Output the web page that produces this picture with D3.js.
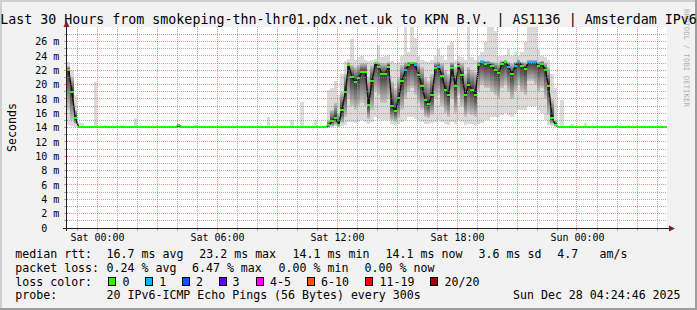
<!DOCTYPE html>
<html><head><meta charset="utf-8">
<script src="https://cdn.jsdelivr.net/npm/d3@7"></script>
<style>
html,body{margin:0;padding:0;background:#f2f2f2;}
svg{display:block;}
text{font-family:"DejaVu Sans Mono",monospace;}
</style></head><body>
<svg id="c" width="697" height="310"></svg>
<script>
// ---------------- DATA ----------------
const title = "Last 30 Hours from smokeping-thn-lhr01.pdx.net.uk to KPN B.V. | AS1136 | Amsterdam IPv6";
const startTime = "2025-12-26T22:30:00Z";
const endTime = "2025-12-28T04:30:00Z";
const stepMinutes = 10;

// median RTT (ms) per 10-minute step
const medianRtt = [
22.0,19.0,15.3,14.1,14.1,14.1,14.1,14.1,14.1,14.1,
14.1,14.1,14.1,14.1,14.1,14.1,14.1,14.1,14.1,14.1,
14.1,14.1,14.1,14.1,14.1,14.1,14.1,14.1,14.1,14.1,
14.1,14.1,14.1,14.3,14.1,14.1,14.1,14.1,14.1,14.1,
14.1,14.1,14.1,14.1,14.1,14.1,14.1,14.1,14.1,14.1,
14.1,14.1,14.1,14.1,14.1,14.1,14.1,14.1,14.1,14.1,
14.1,14.1,14.1,14.1,14.1,14.1,14.1,14.1,14.1,14.1,
14.1,14.1,14.1,14.1,14.1,14.1,14.1,14.1,14.3,14.9,
15.4,14.4,16.5,19.0,22.8,21.0,20.4,20.9,21.8,21.8,
17.2,20.5,23.0,22.5,21.5,21.5,22.5,17.0,16.3,18.1,
20.5,22.0,22.8,23.0,22.7,21.4,19.8,17.8,17.3,18.5,
22.3,22.5,21.2,19.3,18.5,22.3,19.8,22.6,21.3,18.5,
20.0,19.3,18.6,22.8,23.2,22.9,23.0,22.6,22.0,21.6,
22.9,23.2,22.5,21.5,22.6,23.2,22.6,22.2,23.2,23.2,
23.2,22.6,22.9,22.0,19.8,15.4,14.4,14.1,14.1,14.1,
14.1,14.1,14.1,14.1,14.1,14.1,14.1,14.1,14.1,14.1,
14.1,14.1,14.1,14.1,14.1,14.1,14.1,14.1,14.1,14.1,
14.1,14.1,14.1,14.1,14.1,14.1,14.1,14.1,14.1,14.1
];
// lowest ping (ms)
const pingMin = [
14.3,14.2,14.1,14.0,14.0,14.0,14.0,14.0,14.0,14.0,
14.0,14.0,14.0,14.0,14.0,14.0,14.0,14.0,14.0,14.0,
14.0,14.0,14.0,14.0,14.0,14.0,14.0,14.0,14.0,14.0,
14.0,14.0,14.0,14.0,14.0,14.0,14.0,14.0,14.0,14.0,
14.0,14.0,14.0,14.0,14.0,14.0,14.0,14.0,14.0,14.0,
14.0,14.0,14.0,14.0,14.0,14.0,14.0,14.0,14.0,14.0,
14.0,14.0,14.0,14.0,14.0,14.0,14.0,14.0,14.0,14.0,
14.0,14.0,14.0,14.0,14.0,14.0,14.0,14.0,14.0,14.1,
14.2,14.1,14.2,14.4,14.8,14.8,14.6,14.8,15.0,14.8,
14.5,14.8,15.5,15.2,15.0,15.0,15.0,14.5,14.3,14.5,
14.8,15.0,15.5,15.5,15.2,15.0,14.8,14.5,14.5,14.6,
14.8,15.0,14.8,14.5,14.4,14.8,14.5,15.0,14.8,14.4,
14.5,14.5,14.4,14.5,14.6,15.0,15.0,15.5,15.5,15.5,
15.8,16.0,15.8,15.5,16.0,16.5,16.5,16.5,17.0,17.0,
17.0,16.5,16.0,15.0,14.4,14.2,14.1,14.0,14.0,14.0,
14.0,14.0,14.0,14.0,14.0,14.0,14.0,14.0,14.0,14.0,
14.0,14.0,14.0,14.0,14.0,14.0,14.0,14.0,14.0,14.0,
14.0,14.0,14.0,14.0,14.0,14.0,14.0,14.0,14.0,14.0
];
// lower quartile-ish ping (ms)
const pingLowQ = [
16.5,15.0,14.5,14.05,14.05,14.05,14.05,14.05,14.05,14.05,
14.05,14.05,14.05,14.05,14.05,14.05,14.05,14.05,14.05,14.05,
14.05,14.05,14.05,14.05,14.05,14.05,14.05,14.05,14.05,14.05,
14.05,14.05,14.05,14.2,14.05,14.05,14.05,14.05,14.05,14.05,
14.05,14.05,14.05,14.05,14.05,14.05,14.05,14.05,14.05,14.05,
14.05,14.05,14.05,14.05,14.05,14.05,14.05,14.05,14.05,14.05,
14.05,14.05,14.05,14.05,14.05,14.05,14.05,14.05,14.05,14.05,
14.05,14.05,14.05,14.05,14.05,14.05,14.05,14.05,14.05,14.2,
14.4,14.2,14.6,15.5,18.0,17.0,16.5,17.0,17.5,17.0,
15.2,16.5,19.0,18.5,17.5,17.5,18.0,15.0,14.8,15.3,
16.5,18.0,19.0,19.5,18.5,17.5,16.5,15.5,15.3,15.8,
18.0,18.5,17.0,16.0,15.5,18.0,16.0,18.5,17.0,15.5,
16.0,15.8,15.5,19.0,20.0,19.5,19.5,19.0,18.5,18.0,
19.5,20.0,19.0,18.0,19.0,20.0,19.0,18.5,20.5,20.5,
20.0,19.0,19.5,18.0,15.8,14.5,14.2,14.05,14.05,14.05,
14.05,14.05,14.05,14.05,14.05,14.05,14.05,14.05,14.05,14.05,
14.05,14.05,14.05,14.05,14.05,14.05,14.05,14.05,14.05,14.05,
14.05,14.05,14.05,14.05,14.05,14.05,14.05,14.05,14.05,14.05
];
// upper quartile-ish ping (ms)
const pingHighQ = [
22.6,21.0,16.5,14.15,14.15,14.15,14.15,14.15,14.15,14.15,
14.15,14.15,14.15,14.15,14.15,14.15,14.15,14.15,14.15,14.15,
14.15,14.15,14.15,14.15,14.15,14.15,14.15,14.15,14.15,14.15,
14.15,14.15,14.15,14.4,14.15,14.15,14.15,14.15,14.15,14.15,
14.15,14.15,14.15,14.15,14.15,14.15,14.15,14.15,14.15,14.15,
14.15,14.15,14.15,14.15,14.15,14.15,14.15,14.15,14.15,14.15,
14.15,14.15,14.15,14.15,14.15,14.15,14.15,14.15,14.15,14.15,
14.15,14.15,14.15,14.15,14.15,14.15,14.15,14.15,15.0,16.5,
17.5,16.0,19.0,21.5,23.1,22.8,22.5,22.8,23.0,23.0,
21.0,22.8,23.2,23.1,23.0,23.0,23.1,20.5,19.5,21.0,
22.8,23.1,23.2,23.2,23.2,23.0,22.5,21.0,20.5,21.5,
23.1,23.2,23.0,22.0,21.5,23.1,22.5,23.2,23.0,21.5,
22.5,22.0,21.8,23.2,23.4,23.3,23.3,23.2,23.1,23.0,
23.3,23.4,23.2,23.0,23.2,23.4,23.2,23.1,23.4,23.4,
23.4,23.2,23.3,23.0,22.5,18.0,15.0,14.15,14.15,14.15,
14.15,14.15,14.15,14.15,14.15,14.15,14.15,14.15,14.15,14.15,
14.15,14.15,14.15,14.15,14.15,14.15,14.15,14.15,14.15,14.15,
14.15,14.15,14.15,14.15,14.15,14.15,14.15,14.15,14.15,14.15
];
// highest ping (ms)
const pingMax = [
23.1,22.0,18.5,14.6,14.6,14.2,14.2,14.2,20.4,14.2,
14.2,14.4,14.2,14.2,14.2,14.2,14.3,14.2,14.2,14.2,
15.3,14.2,14.2,14.2,14.2,14.2,14.2,14.2,14.2,14.2,
14.2,14.2,14.2,14.5,14.2,14.2,14.2,14.2,14.4,14.2,
14.2,14.2,14.2,14.2,14.2,14.2,14.2,14.2,14.2,14.2,
14.2,14.2,14.2,14.2,14.2,14.2,14.2,14.2,14.2,14.2,
15.5,14.2,14.2,14.2,14.2,14.2,14.2,15.0,14.2,14.2,
17.6,14.2,14.2,14.2,15.1,14.2,14.2,14.2,19.3,19.5,
20.5,18.5,21.5,23.3,23.6,26.3,23.4,23.8,24.0,23.5,
23.3,23.4,23.6,25.5,23.8,24.0,24.2,23.3,23.0,23.2,
24.0,28.0,24.5,28.0,26.5,24.0,23.5,23.3,23.2,23.5,
24.0,25.0,24.0,23.5,25.5,26.0,23.5,24.0,23.8,23.4,
28.0,23.8,23.5,24.0,24.5,26.0,28.0,28.0,27.5,24.0,
24.0,24.2,25.0,24.0,24.5,24.0,24.5,26.0,28.0,28.0,
28.0,25.0,24.0,23.8,23.5,21.5,19.5,14.2,17.9,14.2,
14.2,14.5,14.2,14.2,14.2,14.6,14.2,14.2,14.2,14.2,
14.2,14.2,14.2,14.2,14.4,14.2,14.2,14.2,14.4,14.2,
14.2,14.2,14.2,14.2,14.2,14.2,14.2,14.2,14.2,14.2
];
// lost pings (of 20) per step
const lostPings = [
0,0,0,0,0,0,0,0,0,0, 0,0,0,0,0,0,0,0,0,0,
0,0,0,0,0,0,0,0,0,0, 0,0,0,0,0,0,0,0,0,0,
0,0,0,0,0,0,0,0,0,0, 0,0,0,0,0,0,0,0,0,0,
0,0,0,0,0,0,0,0,0,0, 0,0,0,0,0,0,0,0,0,0,
0,0,0,0,0,0,0,0,0,0, 0,0,0,0,0,0,0,0,0,0,
0,1,0,0,1,0,0,0,0,0, 0,1,0,0,0,0,0,0,0,0,
0,0,0,0,1,0,1,0,0,0, 0,0,1,0,1,1,0,0,1,1,
1,0,0,0,0,0,0,0,0,0, 0,0,0,0,0,0,0,0,0,0,
0,0,0,0,0,0,0,0,0,0, 0,0,0,0,0,0,0,0,0,0
];

const yTickValues = [0,2,4,6,8,10,12,14,16,18,20,22,24,26];
const xLabelTimes = ["2025-12-27T00:00:00Z","2025-12-27T06:00:00Z","2025-12-27T12:00:00Z","2025-12-27T18:00:00Z","2025-12-28T00:00:00Z"];
const xLabels = ["Sat 00:00","Sat 06:00","Sat 12:00","Sat 18:00","Sun 00:00"];
const yAxisTitle = "Seconds";

const lossBins = ["0","1","2","3","4-5","6-10","11-19","20/20"];
const lossUpper = [0,1,2,3,5,10,19,20];
const lossColors = ["#26ff00","#00b8ff","#0059ff","#5e00ff","#ff00ff","#ff5500","#ff0000","#a00000"];

const rttLabel = "median rtt:";
const rttStats = ["16.7 ms avg","23.2 ms max","14.1 ms min","14.1 ms now","3.6 ms sd","4.7","am/s"];
const lossLabel = "packet loss:";
const lossStats = ["0.24 % avg","6.47 % max","0.00 % min","0.00 % now"];
const colorLabel = "loss color:";
const probeLabel = "probe:";
const probeText = "20 IPv6-ICMP Echo Pings (56 Bytes) every 300s";
const stampText = "Sun Dec 28 04:24:46 2025";
const watermark = "RRDTOOL / TOBI OETIKER";

// ---------------- DRAW ----------------
const svg = d3.select("#c");
const W = 697, H = 310;
const PL = 67, PR = 667, PT = 27.3, PB = 228;

svg.append("rect").attr("width",W).attr("height",H).attr("fill","#f2f2f2");
// 3D border
svg.append("rect").attr("x",0).attr("y",0).attr("width",W).attr("height",2).attr("fill","#cfcfcf");
svg.append("rect").attr("x",0).attr("y",0).attr("width",2).attr("height",H).attr("fill","#cfcfcf");
svg.append("rect").attr("x",0).attr("y",H-2).attr("width",W).attr("height",2).attr("fill","#9e9e9e");
svg.append("rect").attr("x",W-2).attr("y",0).attr("width",2).attr("height",H).attr("fill","#9e9e9e");

// watermark
svg.append("text").attr("transform","translate(683.5,9) rotate(90)")
  .attr("font-size",7.4).attr("fill","#b0b0b0").text(watermark);

// title
svg.append("text").attr("x",W/2).attr("y",23.7).attr("text-anchor","middle")
  .attr("font-size",13.3).attr("fill","#000").text(title);

const x = d3.scaleUtc().domain([new Date(startTime), new Date(endTime)]).range([PL, PR]);
const y = d3.scaleLinear().domain([0, 28]).range([PB, PT]);

svg.append("rect").attr("x",PL).attr("y",27).attr("width",PR-PL).attr("height",PB-27).attr("fill","#fff");

const defs = svg.append("defs");
defs.append("clipPath").attr("id","clip").append("rect")
  .attr("x",PL).attr("y",27).attr("width",PR-PL).attr("height",PB-27);

const stepMs = stepMinutes*60000;
const t0 = +new Date(startTime);
const steps = medianRtt.map((m,i)=>({
  i, a:new Date(t0+i*stepMs), b:new Date(t0+(i+1)*stepMs), tc:new Date(t0+(i+0.5)*stepMs),
  med:m, lo:pingMin[i], q1:pingLowQ[i], q3:pingHighQ[i], hi:pingMax[i], loss:lostPings[i]
}));
const xa = d=>Math.round(x(d.a)), xw = d=>Math.round(x(d.b))-Math.round(x(d.a));

const plot = svg.append("g").attr("clip-path","url(#clip)");
// outer smoke
plot.append("g").selectAll("rect").data(steps).join("rect")
  .attr("x",xa).attr("width",xw)
  .attr("y",d=>y(d.hi)).attr("height",d=>Math.max(0,y(d.lo)-y(d.hi)))
  .attr("fill","#dadada").attr("shape-rendering","crispEdges");
// inner smoke with shading toward the median
steps.forEach(d=>{
  const top=y(d.q3), bot=y(d.q1);
  const f = bot>top ? Math.min(1,Math.max(0,(y(d.med)-top)/(bot-top))) : 0.5;
  const g = defs.append("linearGradient").attr("id","sg"+d.i)
    .attr("x1",0).attr("y1",0).attr("x2",0).attr("y2",1);
  g.append("stop").attr("offset",0).attr("stop-color","#c6c6c6");
  g.append("stop").attr("offset",f).attr("stop-color","#353535");
  g.append("stop").attr("offset",1).attr("stop-color","#c6c6c6");
});
plot.append("g").selectAll("rect").data(steps).join("rect")
  .attr("x",xa).attr("width",xw)
  .attr("y",d=>y(d.q3)).attr("height",d=>Math.max(0.5,y(d.q1)-y(d.q3)))
  .attr("fill",d=>"url(#sg"+d.i+")").attr("shape-rendering","crispEdges");
// median connecting line
plot.append("path").datum(steps)
  .attr("d", d3.line().x(d=>x(d.tc)).y(d=>y(d.med)))
  .attr("fill","none").attr("stroke","#141414").attr("stroke-width",1.4);
// median markers coloured by loss
const lossColor = l => lossColors[lossUpper.findIndex(u=>l<=u)];
plot.append("g").selectAll("rect").data(steps).join("rect")
  .attr("x",xa).attr("width",xw)
  .attr("y",d=>Math.round(y(d.med))-1).attr("height",2)
  .attr("fill",d=>lossColor(d.loss)).attr("shape-rendering","crispEdges");

// grid (on top like rrdtool)
const grid = svg.append("g").attr("shape-rendering","crispEdges");
const yMinor = d3.range(1,28);
grid.selectAll("line.hy").data(yMinor).join("line")
  .attr("x1",PL).attr("x2",PR)
  .attr("y1",v=>Math.floor(y(v))+0.5).attr("y2",v=>Math.floor(y(v))+0.5)
  .attr("stroke",v=>v%2===0?"rgba(222,79,79,0.6)":"rgba(143,143,143,0.75)")
  .attr("stroke-dasharray","1,1");
const hours = d3.utcHour.every(1).range(new Date(startTime), new Date(endTime));
grid.selectAll("line.vx").data(hours).join("line")
  .attr("x1",h=>Math.floor(x(h))+0.5).attr("x2",h=>Math.floor(x(h))+0.5)
  .attr("y1",27).attr("y2",PB)
  .attr("stroke",h=>h.getUTCHours()%3===0?"rgba(222,79,79,0.6)":"rgba(143,143,143,0.75)")
  .attr("stroke-dasharray","1,1");

// tick marks
const ticks = svg.append("g").attr("shape-rendering","crispEdges");
ticks.selectAll("line.yt").data(yMinor).join("line")
  .attr("x1",PL-3).attr("x2",PL)
  .attr("y1",v=>Math.floor(y(v))+0.5).attr("y2",v=>Math.floor(y(v))+0.5)
  .attr("stroke",v=>v%2===0?"rgba(222,79,79,0.6)":"rgba(143,143,143,0.75)");
ticks.selectAll("line.xt").data(hours).join("line")
  .attr("x1",h=>Math.floor(x(h))+0.5).attr("x2",h=>Math.floor(x(h))+0.5)
  .attr("y1",PB).attr("y2",PB+3)
  .attr("stroke",h=>h.getUTCHours()%3===0?"rgba(222,79,79,0.6)":"rgba(143,143,143,0.75)");

// axes lines and arrows
svg.append("line").attr("x1",66.5).attr("x2",66.5).attr("y1",231).attr("y2",25)
  .attr("stroke","#1f1f1f").attr("shape-rendering","crispEdges");
svg.append("line").attr("x1",63).attr("x2",670).attr("y1",228.5).attr("y2",228.5)
  .attr("stroke","#1f1f1f").attr("shape-rendering","crispEdges");
svg.append("polygon").attr("points","66.5,20.5 63.5,27 69.5,27").attr("fill","#801f1f");
svg.append("polygon").attr("points","675,228.5 669,225.5 669,231.5").attr("fill","#801f1f");

// y labels
const yAxis = d3.axisLeft(y).tickValues(yTickValues).tickSize(0).tickPadding(7.7)
  .tickFormat(v=> v===0 ? "0" : v+" m");
const gy = svg.append("g").attr("transform",`translate(${PL},0)`).call(yAxis);
gy.select(".domain").remove();
gy.selectAll("text").attr("font-family","DejaVu Sans Mono").attr("font-size",10).attr("fill","#000")
  .attr("dx",v=>v===0?-12:0);

// x labels
const xAxis = d3.axisBottom(x).tickValues(xLabelTimes.map(s=>new Date(s))).tickSize(0).tickPadding(5.9)
  .tickFormat((d,i)=>xLabels[i]);
const gx = svg.append("g").attr("transform",`translate(0,${PB})`).call(xAxis);
gx.select(".domain").remove();
gx.selectAll("text").attr("font-family","DejaVu Sans Mono").attr("font-size",10).attr("fill","#000");

// y axis title
svg.append("text").attr("transform","translate(15.5,127.5) rotate(-90)")
  .attr("text-anchor","middle").attr("font-size",11.6).attr("fill","#000").text(yAxisTitle);

// legend
const FS = 11.6;
const leg = svg.append("g").attr("font-size",FS).attr("fill","#000");
const L1 = 258.3, L2 = 271.7, L3 = 285.7, L4 = 299;
leg.append("text").attr("x",15.3).attr("y",L1).text(rttLabel);
const rttX = [106.6,199.3,292.6,385.6,478.6,557.3,599.6];
rttStats.forEach((s,i)=>leg.append("text").attr("x",rttX[i]).attr("y",L1).text(s));
leg.append("text").attr("x",15.3).attr("y",L2).text(lossLabel);
const lossX = [106.6,192.0,278.6,364.6];
lossStats.forEach((s,i)=>leg.append("text").attr("x",lossX[i]).attr("y",L2).text(s));
leg.append("text").attr("x",15.3).attr("y",L3).text(colorLabel);
const boxX = [108.5,145.5,182.5,219.5,256.5,307.5,365.5,430.5];
const binX = [122.6,159.3,196.0,232.6,270.0,321.0,379.6,444.6];
lossBins.forEach((b,i)=>{
  leg.append("rect").attr("x",boxX[i]).attr("y",277.5).attr("width",7).attr("height",8)
    .attr("fill",lossColors[i]).attr("stroke","#000").attr("stroke-width",1).attr("shape-rendering","crispEdges");
  leg.append("text").attr("x",binX[i]).attr("y",L3).text(b);
});
leg.append("text").attr("x",15.3).attr("y",L4).text(probeLabel);
leg.append("text").attr("x",106.6).attr("y",L4).text(probeText);
leg.append("text").attr("x",513.0).attr("y",L4).text(stampText);
</script>
</body></html>
